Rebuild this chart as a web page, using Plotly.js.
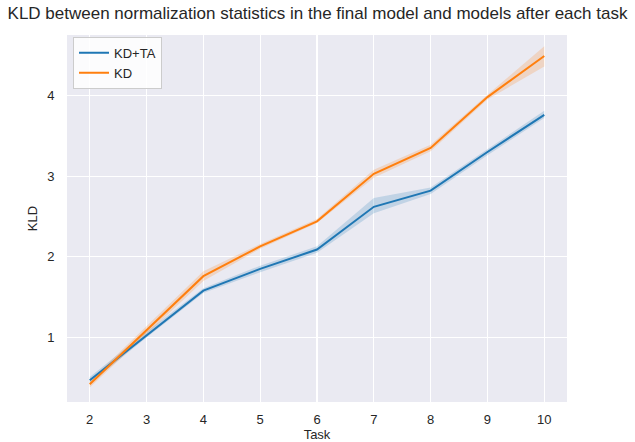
<!DOCTYPE html>
<html>
<head>
<meta charset="utf-8">
<script src="https://cdn.plot.ly/plotly-3.0.1.min.js"></script>
<style>html,body{margin:0;padding:0;background:#fff;}#chart{width:635px;height:442px;}</style>
</head>
<body>
<div id="chart"></div>
<script>
const tasks = [2, 3, 4, 5, 6, 7, 8, 9, 10];
const kdtaMean = [0.47, 1.03, 1.58, 1.85, 2.09, 2.62, 2.82, 3.30, 3.76];
const kdtaLow  = [0.43, 1.00, 1.55, 1.81, 2.05, 2.54, 2.78, 3.26, 3.72];
const kdtaHigh = [0.51, 1.07, 1.61, 1.89, 2.13, 2.73, 2.86, 3.34, 3.81];
const kdMean = [0.42, 1.09, 1.76, 2.13, 2.44, 3.03, 3.35, 3.98, 4.49];
const kdLow  = [0.38, 1.04, 1.70, 2.10, 2.42, 2.98, 3.31, 3.95, 4.36];
const kdHigh = [0.46, 1.14, 1.82, 2.16, 2.47, 3.08, 3.39, 4.01, 4.61];

const blue = '#1f77b4', orange = '#ff7f0e';
function band(low, high, color) {
  return {
    x: tasks.concat(tasks.slice().reverse()),
    y: high.concat(low.slice().reverse()),
    fill: 'toself', fillcolor: color, mode: 'lines',
    line: {width: 0, color: 'rgba(0,0,0,0)'},
    hoverinfo: 'skip', showlegend: false, type: 'scatter'
  };
}
const data = [
  band(kdtaLow, kdtaHigh, 'rgba(31,119,180,0.2)'),
  band(kdLow, kdHigh, 'rgba(255,127,14,0.2)'),
  {x: tasks, y: kdtaMean, mode: 'lines', name: 'KD+TA', line: {color: blue, width: 2}, type: 'scatter'},
  {x: tasks, y: kdMean, mode: 'lines', name: 'KD', line: {color: orange, width: 2}, type: 'scatter'}
];
const ff = 'Liberation Sans, Arial, sans-serif';
const font = {family: ff, size: 13, color: '#262626'};
const layout = {
  width: 635, height: 442,
  margin: {l: 67, r: 68, t: 35, b: 40},
  paper_bgcolor: '#ffffff', plot_bgcolor: '#EAEAF2',
  font: font,
  title: {text: 'KLD between normalization statistics in the final model and models after each task',
          font: {family: ff, size: 17, color: '#262626'},
          x: 0.5, xanchor: 'center', y: 0.985, yanchor: 'top'},
  xaxis: {range: [1.6, 10.4], tickvals: tasks, ticktext: tasks.map(String),
          showgrid: true, gridcolor: '#ffffff', gridwidth: 1.2, zeroline: false, showline: false,
          ticks: 'outside', ticklen: 5, tickcolor: 'rgba(0,0,0,0)',
          title: {text: 'Task', font: font, standoff: 5}},
  yaxis: {range: [0.2, 4.75], tickvals: [1, 2, 3, 4], ticktext: ['1', '2', '3', '4'],
          showgrid: true, gridcolor: '#ffffff', gridwidth: 1.2, zeroline: false, showline: false,
          ticks: 'outside', ticklen: 9, tickcolor: 'rgba(0,0,0,0)',
          title: {text: 'KLD', font: font, standoff: 6}},
  legend: {x: 0.012, y: 0.995, xanchor: 'left', yanchor: 'top',
           bgcolor: 'rgba(255,255,255,0.85)', bordercolor: '#cccccc', borderwidth: 1,
           font: {family: ff, size: 13, color: '#262626'}},
  showlegend: true
};
Plotly.newPlot('chart', data, layout, {displayModeBar: false, staticPlot: true});
</script>
</body>
</html>
